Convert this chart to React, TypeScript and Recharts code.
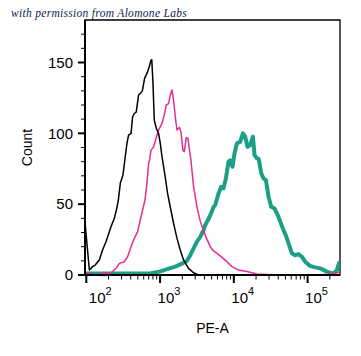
import React from 'react';
import { LineChart, Line, XAxis, YAxis, ReferenceArea } from 'recharts';

// ── Data ─────────────────────────────────────────────────────────────────────
// PE-A channel values and event counts for each overlay.

const controlPE = [
  96, 110, 122, 132, 150, 166, 185, 216, 240, 261, 272, 289, 314, 338, 356, 374,
  404, 424, 447, 475, 511, 551, 575, 617, 664, 714, 753, 772, 802, 834, 889, 954,
  1006, 1062, 1176, 1264, 1375, 1524, 1694, 1878, 2081, 2432, 2843, 3324,
];
const controlCount = [
  37, 3.5, 5.9, 7, 10.6, 17.6, 23.5, 34, 40, 48, 53, 64.7, 70.6, 84, 93, 98.8,
  100, 111.7, 114, 115, 127, 128.7, 130, 138.8, 142.3, 147, 151.7, 152, 135, 109.4, 103.5, 100,
  93, 83.5, 69, 57.6, 48, 36.5, 26, 17.6, 10.6, 4.7, 1.6, 0,
];

const secondaryPE = [
  96, 132, 175, 216, 253, 280, 328, 363, 404, 447, 496, 539, 580, 624, 664, 699,
  721, 753, 817, 880, 954, 1061, 1140, 1213, 1304, 1375, 1449, 1524, 1607, 1694, 1820, 1920,
  2043, 2128, 2265, 2388, 2510, 2623, 2843, 3162, 3505, 4098, 4786, 5309, 6541, 8064, 9420, 11580,
  15050, 20560, 38370, 148200, 236600, 276500,
];
const secondaryCount = [
  1.6, 0, 1.2, 1.6, 4.7, 8.2, 9.4, 12.9, 20, 25.9, 30.6, 38.8, 45.9, 52.9, 64.7, 78.8,
  81, 88, 90.5, 96.4, 102.3, 107, 113, 120, 121, 127, 130.6, 123.5, 111.7, 102.3, 104.2, 101,
  88, 87, 97, 96.4, 88, 81, 62.3, 48.2, 38, 28, 20, 17, 13.5, 9.4, 5.9, 3.5,
  2.4, 0.7, 0, 0, 1, 2.4,
];

const antibodyPE = [
  96, 155, 447, 753, 976, 1140, 1304, 1607, 1980, 2315, 2565, 2843, 3162, 3505, 3885, 4098,
  4786, 5309, 5598, 6204, 6747, 7250, 7811, 8472, 8933, 9594, 10220, 11010, 12210, 13280, 14270, 15330,
  16680, 18150, 19080, 20560, 21750, 23510, 25260, 27230, 29530, 32120, 35600, 40340, 47140, 52430, 61280, 67920,
  75300, 83700, 92800, 108400, 126800, 148200, 182600, 224400, 249500, 270500,
];
const antibodyCount = [
  1, 1, 1, 1.2, 2.4, 3.5, 4.5, 5.9, 8, 10, 14, 18.8, 23.5, 27, 31.7, 35.3,
  42, 48, 49.4, 57.6, 62.3, 61.2, 68.2, 80, 81, 76.4, 85.9, 93, 94, 100, 97.6, 90.5,
  91.7, 97.6, 84.7, 82.3, 82, 71.8, 68.2, 67, 55.3, 48.2, 47, 41, 31.7, 25.9, 15.3, 14,
  14.8, 12.9, 9.4, 6.4, 5.4, 4.7, 2.4, 1, 3.5, 9.4,
];

const X_TICKS = [
  100, 200, 300, 400, 500, 600, 700, 800, 900,
  1000, 2000, 3000, 4000, 5000, 6000, 7000, 8000, 9000,
  10000, 20000, 30000, 40000, 50000, 60000, 70000, 80000, 90000,
  100000, 200000,
];
const Y_TICKS = [0, 10, 20, 30, 40, 50, 60, 70, 80, 90, 100, 110, 120, 130, 140, 150, 160, 170];
const X_DOMAIN = [96, 275000];
const Y_DOMAIN = [0, 180];

const toRows = (pe: number[], count: number[]) => pe.map((v, i) => ({ pe: v, count: count[i] }));

const SERIES = [
  { name: 'antibody', color: '#1d9e86', width: 4, data: toRows(antibodyPE, antibodyCount) },
  { name: 'secondary', color: '#e72c92', width: 1.5, data: toRows(secondaryPE, secondaryCount) },
  { name: 'control', color: '#000000', width: 1.5, data: toRows(controlPE, controlCount) },
];

const FONT = '"Liberation Sans", Arial, sans-serif';

// ── Ticks ────────────────────────────────────────────────────────────────────
const XTick = (props: any) => {
  const { x, y, payload, index } = props;
  const e = Math.log10(payload.value);
  const major = Math.abs(e - Math.round(e)) < 1e-6;
  return (
    <g>
      <line x1={x} x2={x} y1={y} y2={y + (major ? 8 : 4.5)} stroke="#000" strokeWidth={major ? 2 : 1} />
      {major && (
        <text x={x + (index === 0 ? 2.5 : -2.5)} y={y + 28} fontSize={15} fontFamily={FONT} fill="#000">
          10
          <tspan dy={-8} fontSize={11}>{Math.round(e)}</tspan>
        </text>
      )}
    </g>
  );
};

const YTick = (props: any) => {
  const { x, y, payload } = props;
  const major = payload.value % 50 === 0;
  return (
    <g>
      <line x1={x - (major ? 7 : 4)} x2={x} y1={y} y2={y} stroke="#000" strokeWidth={major ? 2 : 1} />
      {major && (
        <text x={x - 12} y={y} dy="0.355em" textAnchor="end" fontSize={15} fontFamily={FONT} fill="#000">
          {payload.value}
        </text>
      )}
    </g>
  );
};

// ── Component ────────────────────────────────────────────────────────────────
export default function App() {
  return (
    <div style={{ position: 'absolute', left: 0, top: 0, width: 361, height: 356, background: '#fff' }}>
      <div
        style={{
          position: 'absolute', left: 11, top: 8, lineHeight: 1, whiteSpace: 'nowrap',
          fontFamily: '"Liberation Serif", serif', fontStyle: 'italic', fontSize: 11.5,
          letterSpacing: 0.3, color: '#0e1d52',
        }}
      >
        with permission from Alomone Labs
      </div>
      <LineChart width={361} height={356} margin={{ top: 20, right: 21, bottom: 0, left: 0 }}>
        <XAxis
          dataKey="pe"
          type="number"
          scale="log"
          domain={X_DOMAIN}
          allowDataOverflow
          ticks={X_TICKS}
          interval={0}
          tick={<XTick />}
          tickLine={false}
          tickSize={0}
          tickMargin={0}
          height={81}
          axisLine={{ stroke: '#000', strokeWidth: 2 }}
          label={{ value: 'PE-A', position: 'insideBottom', offset: 23, fill: '#000', fontSize: 14, fontFamily: FONT }}
        />
        <YAxis
          type="number"
          domain={Y_DOMAIN}
          allowDataOverflow
          ticks={Y_TICKS}
          interval={0}
          tick={<YTick />}
          tickLine={false}
          tickSize={0}
          tickMargin={0}
          width={85}
          axisLine={{ stroke: '#000', strokeWidth: 2 }}
          label={{
            value: 'Count', angle: -90, position: 'insideLeft', offset: 27, fill: '#000',
            fontSize: 14, fontFamily: FONT, style: { textAnchor: 'middle' },
          }}
        />
        <ReferenceArea
          x1={X_DOMAIN[0]} x2={X_DOMAIN[1]} y1={Y_DOMAIN[0]} y2={Y_DOMAIN[1]}
          fill="none" fillOpacity={0} stroke="#000" strokeWidth={1.3}
        />
        {SERIES.map(s => (
          <Line
            key={s.name}
            name={s.name}
            data={s.data}
            dataKey="count"
            type="linear"
            stroke={s.color}
            strokeWidth={s.width}
            strokeLinejoin="round"
            dot={false}
            activeDot={false}
            isAnimationActive={false}
          />
        ))}
      </LineChart>
    </div>
  );
}
